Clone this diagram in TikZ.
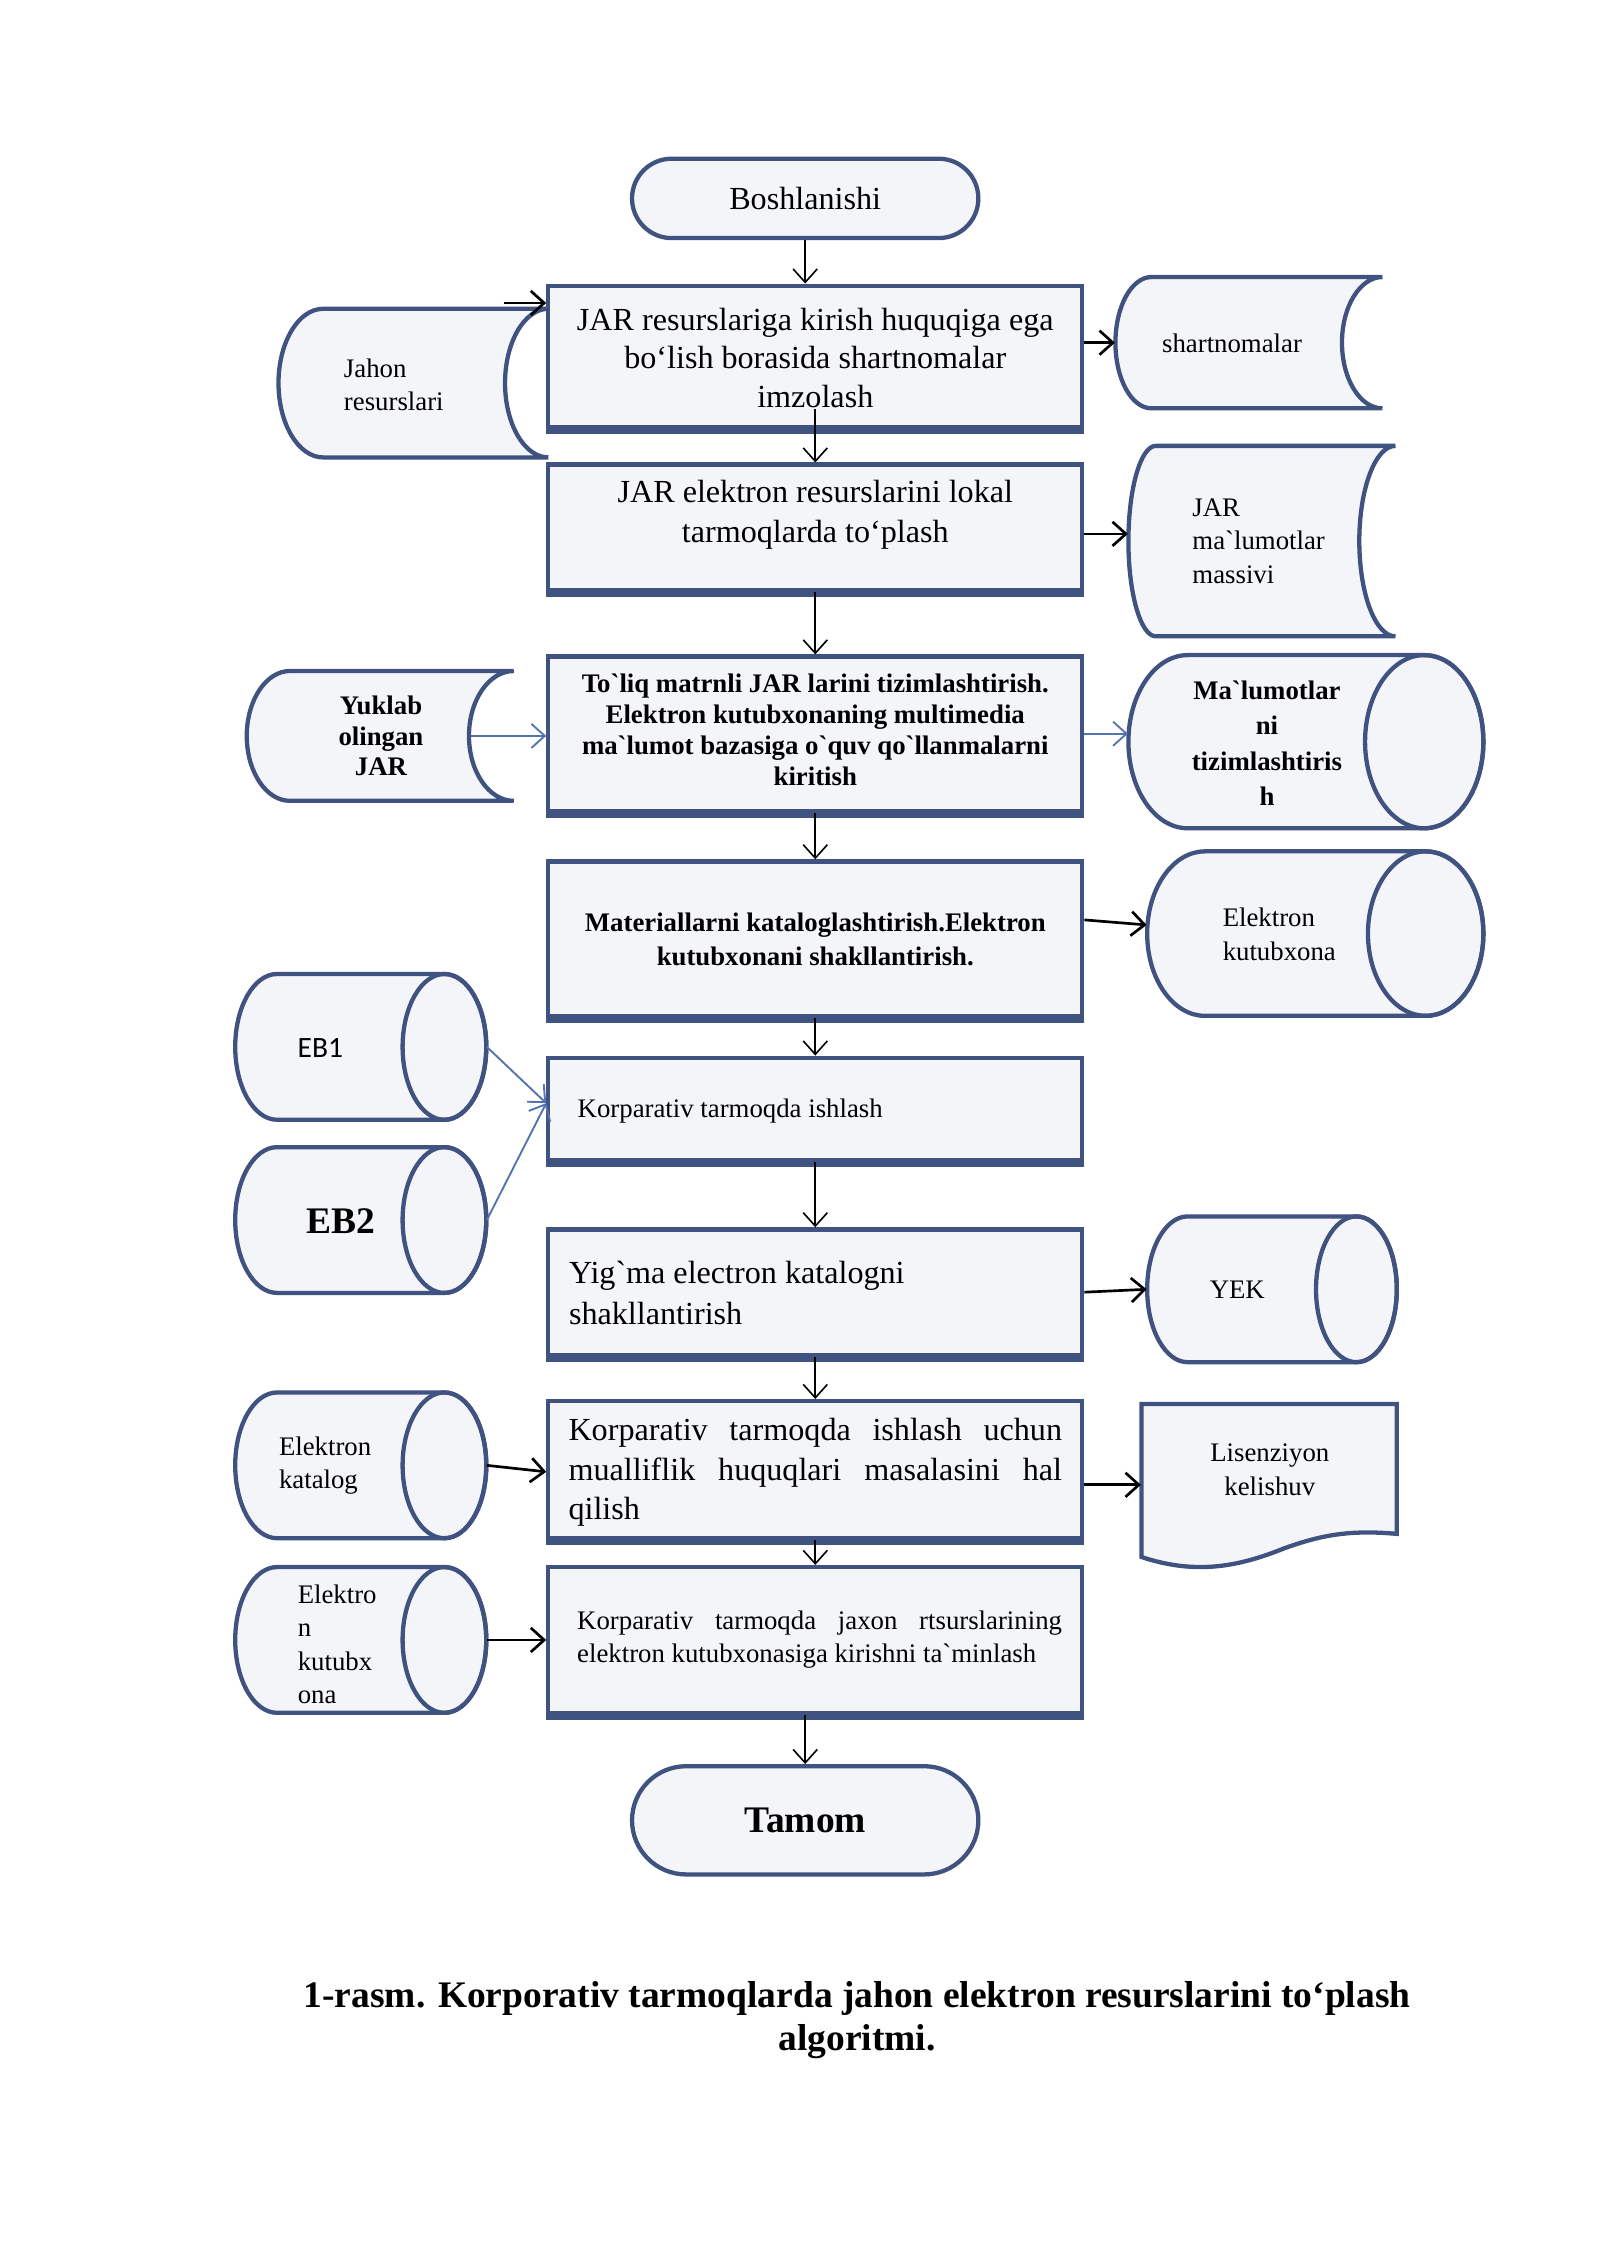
\documentclass[tikz,border=0pt]{standalone}
\usepackage{fontspec}
\setmainfont{Liberation Serif}
\newfontfamily\calib{Carlito}
\usetikzlibrary{arrows.meta,calc,fit}
\definecolor{bord}{RGB}{63,82,128}
\definecolor{fillc}{RGB}{243,245,249}
\definecolor{lblue}{RGB}{84,115,175}
\newcommand\gq{\XeTeXglyph\XeTeXcharglyph"60\relax}
\newcommand\cylsh[6]{%
  \pgfmathsetmacro\cyA{#2+#6}%
  \pgfmathsetmacro\cyB{#4-#6}%
  \pgfmathsetmacro\cyM{(#3+#5)/2}%
  \pgfmathsetmacro\cyR{(#5-#3)/2}%
  \filldraw[shapeline] (\cyB,#3) -- (\cyA,#3) arc[start angle=270,end angle=90,x radius=#6,y radius=\cyR] -- (\cyB,#5) arc[start angle=90,end angle=-90,x radius=#6,y radius=\cyR] -- cycle;
  \draw[shapeline,fill=none] (\cyB,\cyM) ellipse[x radius=#6,y radius=\cyR];
  \node[fit={(#2,#3) (#4,#5)},inner sep=0pt] (#1) {};
}
\newcommand\stosh[7]{%
  \pgfmathsetmacro\stA{#2+#6}%
  \pgfmathsetmacro\stR{(#5-#3)/2}%
  \filldraw[shapeline] (\stA,#3) -- (#4,#3) arc[start angle=270,end angle=90,x radius=#7,y radius=\stR] -- (\stA,#5) arc[start angle=90,end angle=270,x radius=#6,y radius=\stR] -- cycle;
  \node[fit={(#2,#3) (#4,#5)},inner sep=0pt] (#1) {};
}
\begin{document}
\begin{tikzpicture}[x=0.018936cm,y=-0.018936cm,
  shapeline/.style={draw=bord,fill=fillc,line width=1.6pt},
  box/.style={shapeline,inner sep=0pt},
  term/.style={shapeline,inner sep=0pt},
  arr/.style={-{Straight Barb[length=5pt,width=9pt]},line width=0.6pt,draw=black},
  arrk/.style={-{Straight Barb[length=5pt,width=9pt]},line width=1pt,draw=black},
  arrb/.style={-{Straight Barb[length=5pt,width=9pt]},line width=0.7pt,draw=lblue},
  tx/.style={inner sep=0pt,align=center},
  f12/.style={font=\fontsize{12pt}{14.6pt}\selectfont},
  f10/.style={font=\fontsize{10pt}{12.4pt}\selectfont}
]
\fill[white] (0,0) rectangle (1109,1567.6);
\useasboundingbox (0,0) rectangle (1109,1567.6);

% ---- shapes ----
\node[term,rounded corners=0.52cm,fit={(438,110) (678,165)}] (st) {};
\stosh{jah}{193}{214}{380}{317}{31}{30}
\node[box,fit={(380,198) (750,296)}] (b1) {};
\stosh{sh}{773}{192}{958}{283}{25}{28}
\node[box,fit={(380,322) (750,409)}] (b2) {};
\stosh{jm}{782}{309}{967}{441}{19}{25}
\node[box,fit={(380,455) (750,562)}] (b3) {};
\stosh{yk}{171}{465}{356}{555}{30}{31}
\cylsh{mt}{782}{454}{1028}{574}{41}
\node[box,fit={(380,597) (750,704)}] (b4) {};
\cylsh{ek}{795}{590}{1028}{704}{40}
\node[box,fit={(380,733) (750,804)}] (b5) {};
\cylsh{eba}{163}{675}{337}{776}{29}
\cylsh{ebb}{163}{795}{337}{896}{29}
\node[box,fit={(380,852) (750,939)}] (b6) {};
\cylsh{yek}{795}{843}{968}{944}{28}
\node[box,fit={(380,971) (750,1066)}] (b7) {};
\cylsh{ekat}{163}{965}{337}{1066}{29}
\filldraw[shapeline] (791,973) -- (968,973) -- (968,1063) .. controls (935,1060) and (915,1064) .. (890,1073) .. controls (860,1085) and (830,1092) .. (791,1079) -- cycle;
\node[fit={(791,973) (968,1085)},inner sep=0pt] (lis) {};
\node[box,fit={(380,1086) (750,1187)}] (b8) {};
\cylsh{ekb}{163}{1086}{337}{1187}{29}
\node[term,rounded corners=0.71cm,fit={(438,1224) (678,1299)}] (tm) {};
\foreach \bx in {b1,b2,b3,b4,b5,b6,b7,b8}
  \draw[bord,line width=2.4pt] ([yshift=-0.5pt]\bx.south west) -- ([yshift=-0.5pt]\bx.south east);

% ---- texts ----
\node[tx,f12] (tst) at (st.center) {Boshlanishi};
\node[tx,font=\fontsize{12pt}{14.5pt}\selectfont] (t1) at (565,248) {JAR resurslariga kirish huquqiga ega\\bo‘lish borasida shartnomalar\\imzolash};
\node[tx,f10,anchor=west,align=left] (tjah) at (238,266.5) {Jahon\\resurslari};
\node[tx,f10,anchor=west] (tsh) at (805,238) {shartnomalar};
\node[tx,font=\fontsize{12pt}{15pt}\selectfont] (t2) at (565,357) {JAR elektron resurslarini lokal\\tarmoqlarda to‘plash};
\node[tx,f10,anchor=west,align=left] (tjm) at (826,375) {JAR\\ma\gq lumotlar\\massivi};
\node[tx,font=\fontsize{10pt}{11.6pt}\selectfont\bfseries] (t3) at (565,506) {To\gq liq matrnli JAR larini tizimlashtirish.\\Elektron kutubxonaning multimedia\\ma\gq lumot bazasiga o\gq quv qo\gq llanmalarni\\kiritish};
\node[tx,font=\fontsize{10pt}{11.3pt}\selectfont\bfseries] (tyk) at (264,510) {Yuklab\\olingan\\JAR};
\node[tx,font=\fontsize{10pt}{13.3pt}\selectfont\bfseries] (tmt) at (878,515) {Ma\gq lumotlar\\ni\\tizimlashtiris\\h};
\node[tx,font=\fontsize{10pt}{12.9pt}\selectfont\bfseries] (t4) at (565,651) {Materiallarni kataloglashtirish.Elektron\\kutubxonani shakllantirish.};
\node[tx,f10,anchor=west,align=left] (tek) at (847,647.5) {Elektron\\kutubxona};
\node[tx,f10,anchor=west] (t5) at (400,770) {Korparativ tarmoqda ishlash};
\node[tx,font=\fontsize{11pt}{13pt}\selectfont\calib] (teba) at (222,726) {EB1};
\node[tx,font=\fontsize{14pt}{16pt}\selectfont\bfseries] (tebb) at (236,846) {EB2};
\node[tx,font=\fontsize{12pt}{15pt}\selectfont,anchor=west,align=left] (t6) at (394,896) {Yig\gq ma electron katalogni\\shakllantirish};
\node[tx,f10,anchor=west] (tyek) at (838,894) {YEK};
\node[tx,font=\fontsize{12pt}{14.8pt}\selectfont,text width=6.476cm,align=justify] (t7) at (565,1020.5) {Korparativ tarmoqda ishlash uchun\linebreak mualliflik huquqlari masalasini hal\linebreak qilish};
\node[tx,f10,anchor=west,align=left] (tekat) at (193,1015.5) {Elektron\\katalog};
\node[tx,f10] (tlis) at (880,1018.5) {Lisenziyon\\kelishuv};
\node[tx,f10,text width=6.362cm,align=justify] (t8) at (568,1136.5) {Korparativ tarmoqda jaxon rtsurslarining\linebreak elektron kutubxonasiga kirishni ta\gq minlash};
\node[tx,f10,anchor=west,align=left] (tekb) at (206,1139.5) {Elektro\\n\\kutubx\\ona};
\node[tx,font=\fontsize{14pt}{16pt}\selectfont\bfseries] (ttm) at (tm.center) {Tamom};
\node[tx,font=\fontsize{14pt}{16.1pt}\selectfont\bfseries] (cap) at (594,1400) {1-rasm. Korporativ tarmoqlarda jahon elektron resurslarini to‘plash\\algoritmi.};

% ---- connectors ----
\draw[arr] (st.south) -- (st.south |- b1.north);
\coordinate (jaA) at (349,210);
\draw[arrk] (jaA) -- (jaA -| b1.west);
\draw[arrk] (b1.east |- sh.west) -- (sh.west);
\draw[arr] ($(b1.south)+(0,-14)$) -- (b2.north);
\draw[arrk] ($(b2.east)+(0,4.5)$) -- ($(jm.west)+(0,-5)$);
\draw[arr] (b2.south) -- (b3.north);
\draw[arrb] ($(yk.east)+(-30,0)$) -- (b3.west |- yk.east);
\draw[arrb] (b3.east) -- (b3.east -| mt.west);
\draw[arr] (b3.south) -- (b4.north);
\draw[arrk] ($(b4.east)+(0,-13)$) -- ($(ek.west)+(0,-6)$);
\draw[arr] (b4.south) -- (b5.north);
\draw[arrb] (eba.east) -- ($(b5.west)+(0,-4)$);
\draw[arrb] (ebb.east) -- ($(b5.west)+(0,-4)$);
\draw[arr] (b5.south) -- (b6.north);
\draw[arrk] (b6.east) -- (yek.west);
\draw[arr] (b6.south) -- (b7.north);
\draw[arrk] (ekat.east) -- ($(b7.west)+(0,1.5)$);
\draw[arrk] (b7.east |- lis.west) -- (lis.west);
\draw[arr] (b7.south) -- (b8.north);
\draw[arrk] (ekb.east) -- (b8.west);
\draw[arr] (b8.south -| tm.north) -- (tm.north);
\end{tikzpicture}
\end{document}
